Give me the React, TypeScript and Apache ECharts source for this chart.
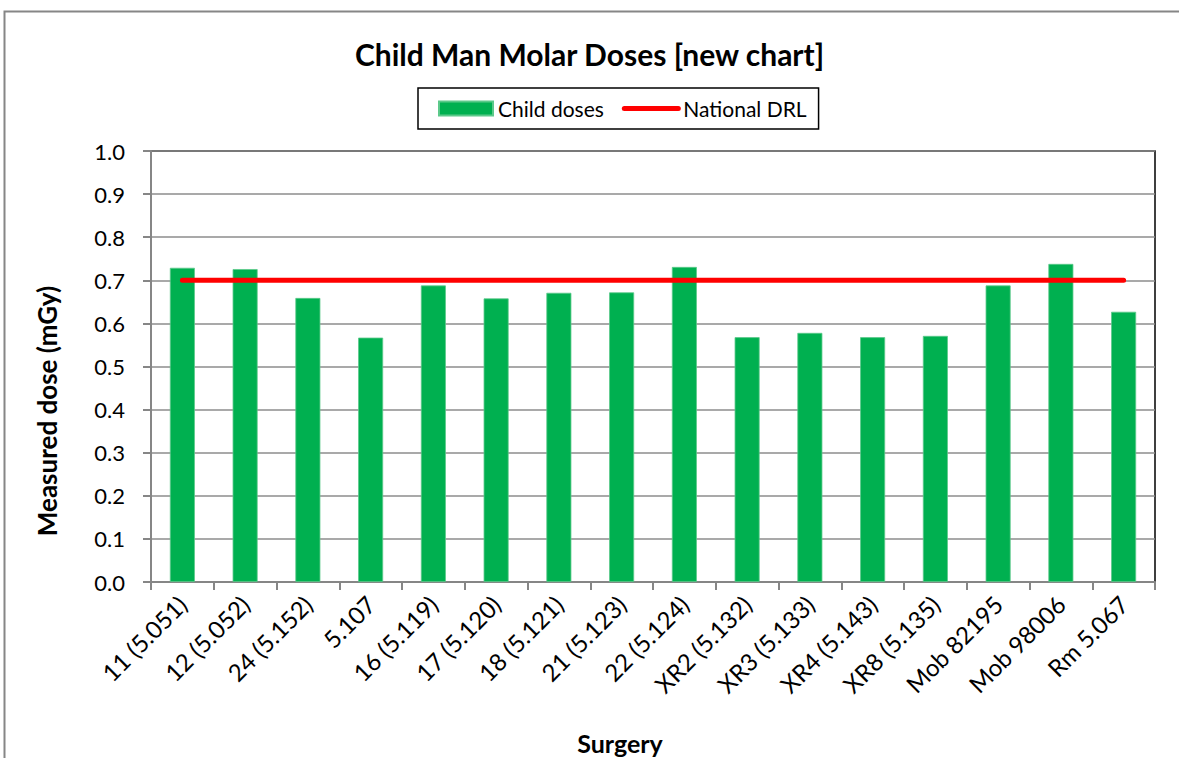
import React, { useEffect, useRef } from "react";
import * as echarts from "echarts";

const categories = [
  "11 (5.051)", "12 (5.052)", "24 (5.152)", "5.107", "16 (5.119)", "17 (5.120)",
  "18 (5.121)", "21 (5.123)", "22 (5.124)", "XR2 (5.132)", "XR3 (5.133)",
  "XR4 (5.143)", "XR8 (5.135)", "Mob 82195", "Mob 98006", "Rm 5.067",
];
const childDoses = [
  0.729, 0.726, 0.659, 0.567, 0.688, 0.658, 0.671, 0.672, 0.731, 0.568, 0.578,
  0.568, 0.571, 0.688, 0.738, 0.627,
];
const nationalDRL = categories.map(() => 0.7);
const yTicks = { min: 0, max: 1, interval: 0.1 };

const FONT = "Lato";

export default function App() {
  const ref = useRef<HTMLDivElement>(null);
  useEffect(() => {
    if (!ref.current) return;
    const chart = echarts.init(ref.current, null, { renderer: "svg" });
    chart.setOption({
      animation: false,
      backgroundColor: "#ffffff",
      textStyle: { fontFamily: FONT, color: "#000" },
      title: {
        text: "Child Man Molar Doses [new chart]",
        left: "center",
        top: 34,
        textStyle: { fontFamily: FONT, fontWeight: "bold", fontSize: 30, color: "#000" },
      },
      legend: {
        left: 418,
        top: 88,
        padding: [10, 12, 10, 20],
        itemGap: 18,
        itemWidth: 54,
        itemHeight: 14,
        borderColor: "#000",
        borderWidth: 1.5,
        textStyle: { fontFamily: FONT, fontSize: 21, color: "#000" },
        data: [
          { name: "Child doses", icon: "rect" },
          {
            name: "National DRL",
            itemStyle: { opacity: 0 },
            lineStyle: { width: 5, cap: "round", color: "#FF0000" },
          },
        ],
      },
      grid: {
        left: 151,
        right: 24,
        top: 151,
        bottom: 176,
        show: true,
        borderColor: "#000",
        borderWidth: 1.5,
        backgroundColor: "#fff",
        outerBoundsMode: "none",
        containLabel: false,
      },
      xAxis: {
        type: "category",
        data: categories,
        axisLine: { lineStyle: { color: "#868686", width: 2 } },
        axisTick: { show: true, length: 8, lineStyle: { color: "#868686", width: 2 } },
        axisLabel: {
          rotate: 45,
          margin: 18,
          interval: 0,
          fontFamily: FONT,
          fontSize: 24,
          color: "#000",
        },
      },
      yAxis: {
        type: "value",
        min: yTicks.min,
        max: yTicks.max,
        interval: yTicks.interval,
        axisLine: { show: true, lineStyle: { color: "#868686", width: 2 } },
        axisTick: { show: true, length: 8, lineStyle: { color: "#868686", width: 2 } },
        splitLine: { show: true, lineStyle: { color: "#8c8c8c", width: 1.5 } },
        axisLabel: {
          margin: 26,
          fontFamily: FONT,
          fontSize: 22,
          color: "#000",
          formatter: (v: number) => v.toFixed(1),
        },
      },
      series: [
        {
          name: "Child doses",
          type: "bar",
          data: childDoses,
          barWidth: 25,
          itemStyle: { color: "#00B050", borderColor: "#5cc98a", borderWidth: 0.8 },
        },
        {
          name: "National DRL",
          type: "line",
          data: nationalDRL,
          symbol: "none",
          lineStyle: { color: "#FF0000", width: 5, cap: "round" },
          itemStyle: { color: "#FF0000" },
          z: 5,
        },
      ],
      graphic: [
        {
          type: "rect",
          shape: { x: 4.5, y: 11.5, width: 1200, height: 800 },
          style: { fill: "none", stroke: "#868686", lineWidth: 2 },
          z: -1,
          silent: true,
        },
        {
          type: "text",
          x: 47,
          y: 411,
          rotation: Math.PI / 2,
          style: {
            text: "Measured dose (mGy)",
            fontFamily: FONT,
            fontWeight: "bold",
            fontSize: 26,
            fill: "#000",
            textAlign: "center",
            textVerticalAlign: "middle",
          },
        },
        {
          type: "text",
          x: 620,
          y: 743,
          style: {
            text: "Surgery",
            fontFamily: FONT,
            fontWeight: "bold",
            fontSize: 25,
            fill: "#000",
            textAlign: "center",
            textVerticalAlign: "middle",
          },
        },
      ],
    });
    return () => chart.dispose();
  }, []);
  return (
    <div
      ref={ref}
      style={{ position: "fixed", left: 0, top: 0, width: 1179, height: 758 }}
    />
  );
}
